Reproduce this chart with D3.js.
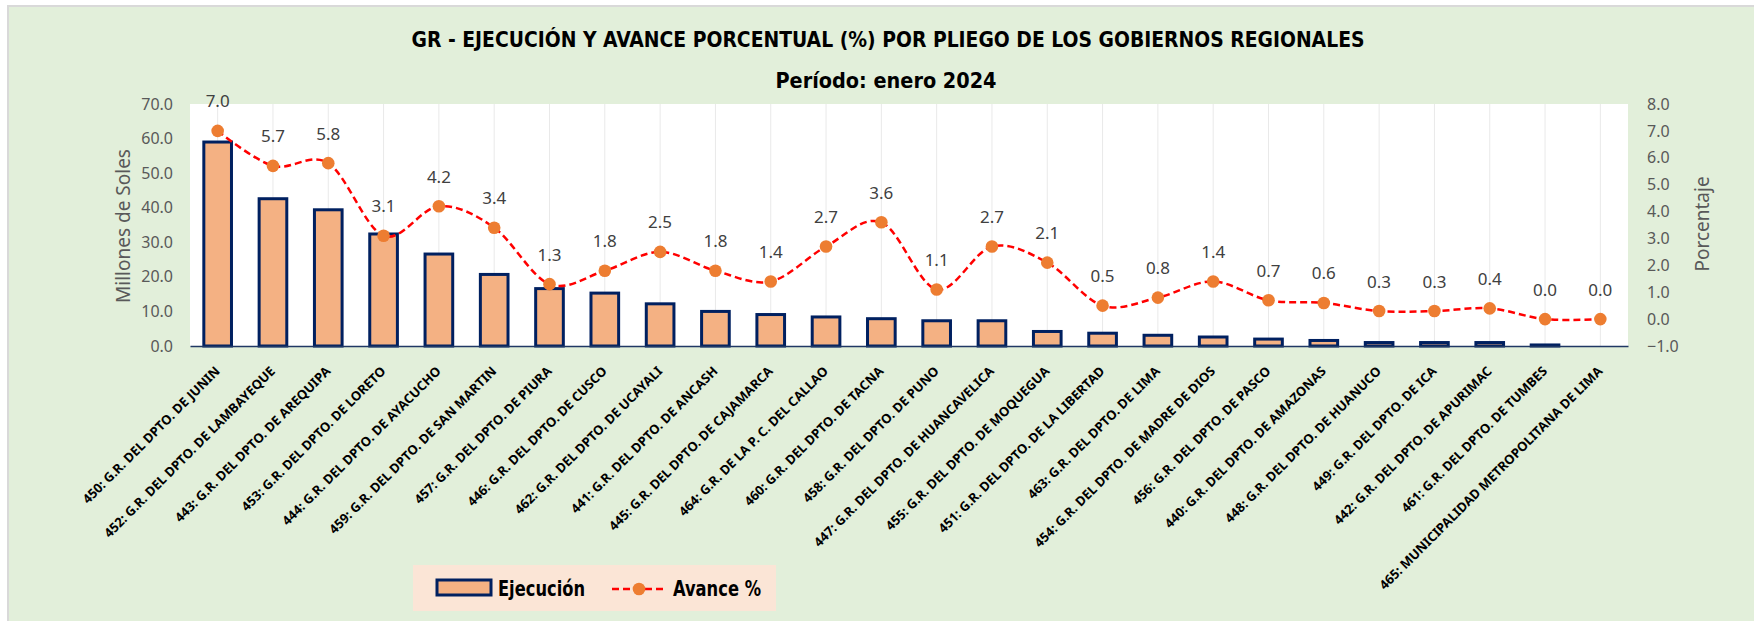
<!DOCTYPE html>
<html>
<head>
<meta charset="utf-8">
<script src="https://cdn.jsdelivr.net/npm/d3@7"></script>
<style>
  body { margin: 0; background: #ffffff; }
  svg { display: block; }
</style>
</head>
<body>
<div id="graph"></div>
<script>
var width = 1754;
var height = 621;
var plot = { left: 190, right: 1628, top: 104, bottom: 346 };

// pliegos, ordered as in the chart
var categories = [
  "450: G.R. DEL DPTO. DE JUNIN",
  "452: G.R. DEL DPTO. DE LAMBAYEQUE",
  "443: G.R. DEL DPTO. DE AREQUIPA",
  "453: G.R. DEL DPTO. DE LORETO",
  "444: G.R. DEL DPTO. DE AYACUCHO",
  "459: G.R. DEL DPTO. DE SAN MARTIN",
  "457: G.R. DEL DPTO. DE PIURA",
  "446: G.R. DEL DPTO. DE CUSCO",
  "462: G.R. DEL DPTO. DE UCAYALI",
  "441: G.R. DEL DPTO. DE ANCASH",
  "445: G.R. DEL DPTO. DE CAJAMARCA",
  "464: G.R. DE LA P. C. DEL CALLAO",
  "460: G.R. DEL DPTO. DE TACNA",
  "458: G.R. DEL DPTO. DE PUNO",
  "447: G.R. DEL DPTO. DE HUANCAVELICA",
  "455: G.R. DEL DPTO. DE MOQUEGUA",
  "451: G.R. DEL DPTO. DE LA LIBERTAD",
  "463: G.R. DEL DPTO. DE LIMA",
  "454: G.R. DEL DPTO. DE MADRE DE DIOS",
  "456: G.R. DEL DPTO. DE PASCO",
  "440: G.R. DEL DPTO. DE AMAZONAS",
  "448: G.R. DEL DPTO. DE HUANUCO",
  "449: G.R. DEL DPTO. DE ICA",
  "442: G.R. DEL DPTO. DE APURIMAC",
  "461: G.R. DEL DPTO. DE TUMBES",
  "465: MUNICIPALIDAD METROPOLITANA DE LIMA"
];

// millones de soles (bars, left axis)
var ejecucion = [59.0, 42.6, 39.4, 32.4, 26.6, 20.7, 16.6, 15.3, 12.2, 10.0, 9.1, 8.4, 7.9,
                 7.3, 7.3, 4.2, 3.7, 3.1, 2.6, 2.0, 1.6, 1.0, 1.0, 1.0, 0.3, 0.0];

// avance % (line, right axis)
var avance = [7.0, 5.7, 5.8, 3.1, 4.2, 3.4, 1.3, 1.8, 2.5, 1.8, 1.4, 2.7, 3.6,
              1.1, 2.7, 2.1, 0.5, 0.8, 1.4, 0.7, 0.6, 0.3, 0.3, 0.4, 0.0, 0.0];

var leftTicks = [0, 10, 20, 30, 40, 50, 60, 70];
var rightTicks = [-1, 0, 1, 2, 3, 4, 5, 6, 7, 8];

var narrowFont = "'Liberation Sans Narrow', 'DejaVu Sans Condensed', sans-serif";

var svg = d3.select("#graph").append("svg")
  .attr("width", width)
  .attr("height", height);

// chart area background + border
svg.append("rect")
  .attr("x", 8).attr("y", 6)
  .attr("width", width + 10).attr("height", height + 10)
  .attr("fill", "#E2EFDA")
  .attr("stroke", "#D9D9D9")
  .attr("stroke-width", 2);

// title
svg.append("text")
  .attr("x", 888).attr("y", 47)
  .attr("text-anchor", "middle")
  .attr("font-family", narrowFont)
  .attr("font-weight", "bold")
  .attr("font-size", 21)
  .attr("textLength", 953)
  .attr("lengthAdjust", "spacingAndGlyphs")
  .attr("fill", "#000")
  .text("GR - EJECUCIÓN  Y AVANCE PORCENTUAL (%) POR PLIEGO DE LOS GOBIERNOS REGIONALES");

svg.append("text")
  .attr("x", 886).attr("y", 88)
  .attr("text-anchor", "middle")
  .attr("font-family", narrowFont)
  .attr("font-weight", "bold")
  .attr("font-size", 21)
  .attr("textLength", 221)
  .attr("lengthAdjust", "spacingAndGlyphs")
  .attr("fill", "#000")
  .text("Período:  enero 2024");

// plot area
svg.append("rect")
  .attr("x", plot.left).attr("y", plot.top)
  .attr("width", plot.right - plot.left).attr("height", plot.bottom - plot.top)
  .attr("fill", "#ffffff");

var xScale = d3.scaleBand()
  .domain(categories)
  .range([plot.left, plot.right])
  .paddingInner(0.5)
  .paddingOuter(0.25);
var yLeft = d3.scaleLinear().domain([0, 70]).range([plot.bottom, plot.top]);
var yRight = d3.scaleLinear().domain([-1, 8]).range([plot.bottom, plot.top]);

function center(c) {
  return xScale(c) + xScale.bandwidth() / 2;
}

// vertical grid lines through each category
svg.append("g")
  .selectAll("line")
  .data(categories)
  .enter()
  .append("line")
  .attr("x1", center).attr("x2", center)
  .attr("y1", plot.top).attr("y2", plot.bottom)
  .attr("stroke", "#E9E9E9")
  .attr("stroke-width", 1);

// left axis
var gLeft = svg.append("g")
  .attr("transform", "translate(" + plot.left + ",0)")
  .call(d3.axisLeft(yLeft).tickValues(leftTicks).tickFormat(d3.format(".1f")).tickSize(0).tickPadding(17));
gLeft.select(".domain").remove();
gLeft.selectAll("text")
  .attr("font-family", "'Noto Sans', sans-serif")
  .attr("font-size", 16)
  .attr("fill", "#595959");

// right axis
var gRight = svg.append("g")
  .attr("transform", "translate(" + plot.right + ",0)")
  .call(d3.axisRight(yRight).tickValues(rightTicks).tickFormat(d3.format(".1f")).tickSize(0).tickPadding(19));
gRight.select(".domain").remove();
gRight.selectAll("text")
  .attr("font-family", "'Noto Sans', sans-serif")
  .attr("font-size", 16)
  .attr("fill", "#595959");

// axis titles
svg.append("text")
  .attr("transform", "translate(123,226) rotate(-90)")
  .attr("text-anchor", "middle")
  .attr("dominant-baseline", "central")
  .attr("font-family", "'Noto Sans', sans-serif")
  .attr("font-size", 19)
  .attr("fill", "#595959")
  .text("Millones de Soles");

svg.append("text")
  .attr("transform", "translate(1702,224) rotate(-90)")
  .attr("text-anchor", "middle")
  .attr("dominant-baseline", "central")
  .attr("font-family", "'Noto Sans', sans-serif")
  .attr("font-size", 19)
  .attr("fill", "#595959")
  .text("Porcentaje");

// bars
svg.append("g")
  .selectAll("rect")
  .data(categories)
  .enter()
  .append("rect")
  .attr("x", function (d) { return xScale(d); })
  .attr("y", function (d, i) { return yLeft(ejecucion[i]); })
  .attr("width", xScale.bandwidth())
  .attr("height", function (d, i) { return yLeft(0) - yLeft(ejecucion[i]); })
  .attr("fill", "#F4B183")
  .attr("stroke", "#002060")
  .attr("stroke-width", 3);

// category axis
var gBottom = svg.append("g")
  .attr("transform", "translate(0," + plot.bottom + ")")
  .call(d3.axisBottom(xScale).tickSize(0).tickSizeOuter(0));
gBottom.select(".domain")
  .attr("stroke", "#203864")
  .attr("stroke-width", 1.5);
gBottom.selectAll("text")
  .attr("x", 0).attr("y", 0).attr("dy", 0)
  .attr("transform", "translate(3,26) rotate(-45)")
  .attr("text-anchor", "end")
  .attr("font-family", "'Noto Sans', sans-serif")
  .attr("font-weight", "bold")
  .attr("font-size", 13)
  .attr("fill", "#000");

// avance % line
var line = d3.line()
  .x(function (d, i) { return center(categories[i]); })
  .y(function (d) { return yRight(d); })
  .curve(d3.curveCatmullRom.alpha(0));

svg.append("path")
  .datum(avance)
  .attr("d", line)
  .attr("fill", "none")
  .attr("stroke", "#FF0000")
  .attr("stroke-width", 2.5)
  .attr("stroke-dasharray", "7,4");

svg.append("g")
  .selectAll("circle")
  .data(avance)
  .enter()
  .append("circle")
  .attr("cx", function (d, i) { return center(categories[i]); })
  .attr("cy", function (d) { return yRight(d); })
  .attr("r", 6.3)
  .attr("fill", "#ED7D31");

svg.append("g")
  .selectAll("text")
  .data(avance)
  .enter()
  .append("text")
  .attr("x", function (d, i) { return center(categories[i]); })
  .attr("y", function (d) { return yRight(d) - 23.5; })
  .attr("text-anchor", "middle")
  .attr("font-family", "'Noto Sans', sans-serif")
  .attr("font-size", 17)
  .attr("fill", "#404040")
  .text(d3.format(".1f"));

// legend
var legend = svg.append("g");
legend.append("rect")
  .attr("x", 413).attr("y", 565)
  .attr("width", 363).attr("height", 46)
  .attr("fill", "#FBE5D6");
legend.append("rect")
  .attr("x", 437).attr("y", 580)
  .attr("width", 54).attr("height", 15)
  .attr("fill", "#F4B183")
  .attr("stroke", "#002060")
  .attr("stroke-width", 3);
legend.append("text")
  .attr("x", 498).attr("y", 596)
  .attr("font-family", narrowFont)
  .attr("font-weight", "bold")
  .attr("font-size", 22)
  .attr("textLength", 87)
  .attr("lengthAdjust", "spacingAndGlyphs")
  .text("Ejecución");
legend.append("line")
  .attr("x1", 612).attr("x2", 666)
  .attr("y1", 589).attr("y2", 589)
  .attr("stroke", "#FF0000")
  .attr("stroke-width", 2.5)
  .attr("stroke-dasharray", "7,4");
legend.append("circle")
  .attr("cx", 639).attr("cy", 589)
  .attr("r", 6.3)
  .attr("fill", "#ED7D31");
legend.append("text")
  .attr("x", 673).attr("y", 596)
  .attr("font-family", narrowFont)
  .attr("font-weight", "bold")
  .attr("font-size", 22)
  .attr("textLength", 88)
  .attr("lengthAdjust", "spacingAndGlyphs")
  .text("Avance %");
</script>
</body>
</html>
